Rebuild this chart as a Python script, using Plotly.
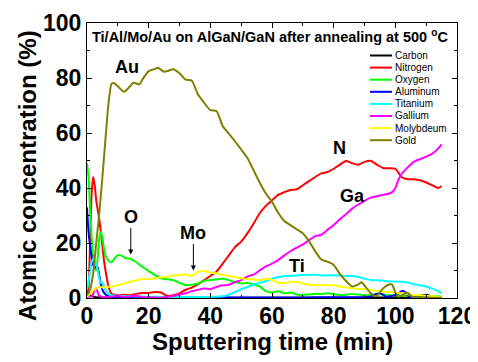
import plotly.graph_objects as go

# ---------------- data ----------------
series_names = ["Carbon", "Nitrogen", "Oxygen", "Aluminum", "Titanium", "Gallium", "Molybdeum", "Gold"]
series_colors = ["#000000", "#FF0000", "#00FF00", "#0000FF", "#00FFFF", "#FF00FF", "#FFFF00", "#808000"]

C_t = [0, 0.5, 1, 2, 3, 5, 10, 20, 30, 40, 50, 60, 70, 80, 90, 100, 105, 108, 110, 112, 115]
C_y = [3, 2, 1, 0.5, 0.3, 0.2, 0.1, 0.1, 0.1, 0.1, 0.1, 0.1, 0.1, 0.1, 0.1, 0.2, 0.3, 0.8, 1.2, 0.5, 0.3]

N_t = [0, 0.5, 1, 1.5, 2, 2.5, 3, 4, 5, 5.5, 6, 7, 8,
       10, 12, 14, 16, 18, 20, 22, 24, 26, 28, 30, 32, 34, 36, 38, 40, 42, 44, 46, 48,
       50, 52, 54, 56, 58, 60, 62, 64, 66, 68, 70, 72, 74, 76, 78, 80, 82, 84, 86, 88,
       90, 92, 94, 96, 98, 100, 102, 104, 106, 108, 110, 112, 114, 115]
N_y = [1, 4, 20, 38, 44, 41, 35.5, 28.5, 19, 13.8, 10, 4, 1.5,
       1, 1.2, 1, 1.5, 1.8, 1.8, 2.2, 2, 0.8, 1, 1.7, 3, 3.8, 5, 6.5, 8, 9.6, 12.5, 15.5, 18.5,
       20.5, 23.5, 27, 30.8, 33.5, 35.5, 37.5, 38.5, 39.3, 39.5, 41, 42.5, 44, 45.3, 45.8, 47, 48.5, 49.8, 49, 48.5,
       49.5, 49.9, 48.5, 47.3, 47.2, 47, 44, 43.2, 43.2, 42.8, 42, 41, 40, 40.7]

O_t = [0, 0.5, 1, 1.5, 2, 2.5, 3, 3.5, 4, 4.5, 5, 5.5, 6, 7, 8, 9, 10, 11, 12, 13, 14,
       16, 18, 20, 22, 24, 26, 28, 30, 32, 34, 36, 38, 40, 42, 44, 46, 48, 50, 52, 54,
       56, 58, 60, 62, 64, 66, 68, 70, 72, 74, 76, 78, 80, 82, 84, 86, 88, 90, 92, 94,
       96, 98, 100, 102, 104, 106, 108, 110, 112, 114, 115]
O_y = [49, 44, 32, 22, 15, 11, 10, 15, 22, 24, 22, 18, 15.5, 13.5, 13, 14.5, 15.6, 15.5, 14.8, 14.4, 14.3,
       13, 11.3, 9.8, 8.3, 7.2, 6.8, 6.5, 5.5, 4.7, 4.8, 5.3, 6.3, 6.5, 6.8, 7, 6.5, 5.8, 5.3, 5.5, 5,
       4.2, 2.5, 2, 2.5, 1.7, 2, 1.3, 1.1, 1.3, 1.5, 1.5, 1.7, 1.4, 1.1, 1.2, 1.5, 1.3, 1, 1.2, 1.5,
       1.3, 1, 0.8, 0.9, 0.8, 0.8, 0.7, 0.7, 0.6, 0.6, 0.5]

Al_t = [0, 0.5, 1, 1.5, 2, 2.5, 3, 3.5, 4, 4.5, 5, 6, 7, 8, 10,
        15, 20, 30, 40, 50, 60, 70, 80, 88, 90,
        92, 94, 95, 96, 97, 99, 101, 102, 103, 104, 105, 108, 110, 112, 115]
Al_y = [33, 24, 19, 15, 12, 11, 11.5, 11, 8, 5, 3, 1.3, 0.7, 0.5, 0.4,
        0.3, 0.3, 0.2, 0.2, 0.2, 0.2, 0.2, 0.3, 0.3, 0.3,
        0.6, 1.5, 1.7, 1.2, 0.5, 0.8, 1.5, 2.5, 2.3, 1, 0.2, 0.3, 0.3, 0.2, 0.2]

Ti_t = [0, 0.5, 1, 1.5, 2, 2.5, 3, 3.5, 4, 4.5, 5, 5.5, 6, 7, 8, 10,
        15, 20, 25, 30, 35, 40, 44,
        46, 48, 50, 52, 54, 56, 58, 60, 62, 64, 66, 68, 70, 72, 74, 76, 78, 80, 82, 84,
        86, 88, 90, 92, 94, 96, 98, 100, 102, 104, 106, 108, 110, 112, 114, 115]
Ti_y = [3, 6, 10, 13, 14.4, 13.5, 12, 10, 7, 5.5, 5.5, 4.5, 3, 1.5, 1, 0.8,
        0.6, 0.5, 0.4, 0.4, 0.4, 0.4, 0.6,
        1.2, 2.2, 3.2, 4, 4.8, 5.5, 6.2, 7, 7.6, 8, 8.1, 8.2, 8.4, 8.4, 8.5, 8.3, 8.2, 8.3, 8.2, 8,
        8, 7.6, 7, 6.5, 6.5, 6.3, 6, 6, 5.9, 5.6, 5, 4.6, 4.1, 3.4, 2.4, 1.7]

Ga_t = [0, 0.5, 1, 1.5, 2, 2.5, 3, 3.5, 4, 5, 6,
        8, 10, 12, 14, 16, 18, 20, 22, 24, 26, 28, 30, 32, 34, 36, 38, 40, 42, 44, 46,
        48, 50, 52, 54, 56, 58, 60, 62, 64, 66, 68, 70, 72, 74, 76, 78, 80, 82, 84, 86,
        88, 90, 92, 94, 96, 98, 99, 100, 101, 102, 104, 106, 108, 110, 112, 114, 115]
Ga_y = [0, 0.5, 0.5, 0.5, 1.5, 3, 3.5, 2, 0.8, 0.3, 0.3,
        0.5, 0.8, 0.4, 0.6, 0.8, 0.3, 0.3, 0.2, 0.1, 0.4, 0.7, 1.3, 1.7, 2.5, 3, 3.5, 3.2, 4, 4.6, 4.8,
        5.8, 6.5, 7.8, 8.5, 10, 11.5, 12.5, 13.8, 15.5, 17, 18.3, 19.5, 21, 22.5, 23, 24.8, 26.5, 28.6, 30.5, 32.5,
        34, 35.3, 36.5, 37, 37.5, 38, 38.5, 40, 43, 45, 47.5, 49.5, 50.5, 51.4, 52.5, 54.5, 55.9]

Mo_t = [0, 1, 2, 3, 4, 5, 6,
        8, 10, 12, 14, 16, 18, 20, 22, 24, 26, 28, 30, 32, 34, 36, 38, 40, 42, 44, 46,
        48, 50, 52, 54, 56, 58, 60, 62, 64, 66, 68, 70, 72, 74, 76, 78, 80, 82, 84, 86,
        88, 90, 92, 94, 96, 98, 100, 102, 104, 106, 108, 110, 112, 114, 115]
Mo_y = [0.5, 1.5, 2.8, 3.5, 4.1, 3.8, 4,
        4.2, 4.6, 5.3, 5.9, 6.4, 7, 6.8, 7.2, 7.5, 7.7, 8.2, 8.4, 8.5, 8, 9.6, 9.8, 9.2, 9, 8.4, 8,
        7.6, 7.2, 6.8, 6.8, 6.5, 7, 6.6, 5.5, 5.5, 5.8, 5.9, 5.3, 4.7, 4.8, 4.7, 4.6, 4.6, 4.2, 3.8, 3.5,
        3.3, 3.2, 3, 2.6, 2.3, 2.2, 1.8, 1.7, 1.4, 1.1, 1, 0.8, 0.6, 0.5, 0.5]

Au_t = [0, 1, 2, 3, 4, 5, 6, 7, 8, 9, 10,
        12, 14, 15, 17, 18, 20, 22, 23, 25, 26, 28, 30, 32, 34, 36, 38,
        40, 42, 44, 46, 48, 50, 52, 54, 56, 58, 60, 62, 64, 66, 68, 70, 72, 74, 76, 78, 80, 82, 84, 86, 88,
        89, 90, 92, 93, 94, 96, 98, 99, 100, 101, 102, 104, 105, 106, 108, 110, 112, 115]
Au_y = [1, 3, 9, 20, 31, 44, 58, 71, 78, 78, 77,
        75, 77, 78.3, 77.7, 79.5, 82.5, 83.3, 83.7, 82.3, 82.5, 83.2, 81.7, 79.4, 79, 74, 71,
        68.3, 68, 62.5, 59.8, 57, 54, 51, 46.5, 42, 38, 35, 31, 28, 26.5, 25, 23.5, 20.7, 17, 14, 13.2, 12, 8.8, 6.2, 4.2, 5,
        5.7, 4.5, 1.8, 0.8, 0.8, 3.5, 4.9, 4.8, 2, 0.5, 0.9, 1.9, 0.8, 0.3, 0.2, 0.2, 0.1, 0.1]

series_t = [C_t, N_t, O_t, Al_t, Ti_t, Ga_t, Mo_t, Au_t]
series_y = [C_y, N_y, O_y, Al_y, Ti_y, Ga_y, Mo_y, Au_y]

x_ticks = [0, 20, 40, 60, 80, 100, 120]
y_ticks = [0, 20, 40, 60, 80, 100]

title_text = "Ti/Al/Mo/Au on AlGaN/GaN after annealing at 500 <sup>o</sup>C"
x_title = "Sputtering time (min)"
y_title = "Atomic concentration (%)"
element_labels = [("Au", 13, 84), ("N", 82, 54.5), ("Ga", 86, 37), ("Ti", 68, 11.5)]
arrow_labels = [("O", 14.2, 15.8), ("Mo", 34.5, 10)]

# ---------------- figure ----------------
FONT = "Liberation Sans, Arial, sans-serif"
fig = go.Figure()
for name, color, t, y in zip(series_names, series_colors, series_t, series_y):
    fig.add_trace(go.Scatter(x=t, y=y, mode="lines", name=name,
                             line=dict(color=color, width=2, shape="spline", smoothing=0.6),
                             showlegend=False))

# plot-area pixel box in the window (page body has an 8px offset)
L, R, T, B = 87, 457, 23, 298
def px_x(p):
    return (p - L) / (R - L)
def px_y(p):
    return (B - p) / (B - T)

leg_top = 55.5
leg_step = 12.1
for i, (name, color) in enumerate(zip(series_names, series_colors)):
    yy = px_y(leg_top + i * leg_step)
    fig.add_shape(type="line", xref="paper", yref="paper",
                  x0=px_x(370), x1=px_x(392), y0=yy, y1=yy,
                  line=dict(color=color, width=2))
    fig.add_annotation(xref="paper", yref="paper", x=px_x(393), y=yy,
                       text=name, showarrow=False, xanchor="left", yanchor="middle",
                       font=dict(family=FONT, size=10, color="black"))

fig.add_annotation(xref="paper", yref="paper", x=px_x(270), y=px_y(36),
                   text=title_text, showarrow=False, xanchor="center", yanchor="middle",
                   font=dict(family=FONT, size=14.5, color="black", weight=700))

# axis titles
fig.add_annotation(xref="paper", yref="paper", x=px_x(272), y=px_y(341),
                   text=x_title, showarrow=False, xanchor="center", yanchor="middle",
                   font=dict(family=FONT, size=24, color="black", weight=700))
fig.add_annotation(xref="paper", yref="paper", x=px_x(27), y=px_y(176),
                   text=y_title, showarrow=False, xanchor="center", yanchor="middle",
                   textangle=-90,
                   font=dict(family=FONT, size=24, color="black", weight=700))

for txt, xv, yv in element_labels:
    fig.add_annotation(x=xv, y=yv, text=txt, showarrow=False,
                       font=dict(family=FONT, size=18, color="black", weight=700))
for txt, xv, yv in arrow_labels:
    fig.add_annotation(x=xv, y=yv, text=txt, showarrow=True, ax=0, ay=-38,
                       arrowhead=2, arrowsize=1, arrowwidth=1, arrowcolor="black", standoff=0,
                       font=dict(family=FONT, size=18, color="black", weight=700))

axis_common = dict(showline=True, linecolor="black", linewidth=1, mirror="allticks",
                   ticks="inside", ticklen=5, tickcolor="black", tickwidth=1,
                   showgrid=False, zeroline=False, automargin=False,
                   tickfont=dict(family=FONT, size=23, color="black", weight=700))

fig.update_xaxes(range=[0, 120], tickvals=x_ticks, ticktext=[str(v) for v in x_ticks],
                 minor=dict(dtick=10, ticks="inside", ticklen=3, tickcolor="black"),
                 ticklabelstandoff=-3,
                 **axis_common)
fig.update_yaxes(range=[0, 100], tickvals=y_ticks, ticktext=[str(v) for v in y_ticks],
                 minor=dict(dtick=10, ticks="inside", ticklen=3, tickcolor="black"),
                 **axis_common)

# margins compensate the 8px body offset of the page
fig.update_layout(width=478, height=362, margin=dict(l=79, r=29, t=15, b=72),
                  paper_bgcolor="white", plot_bgcolor="white", showlegend=False)

fig.write_html("out.html")
